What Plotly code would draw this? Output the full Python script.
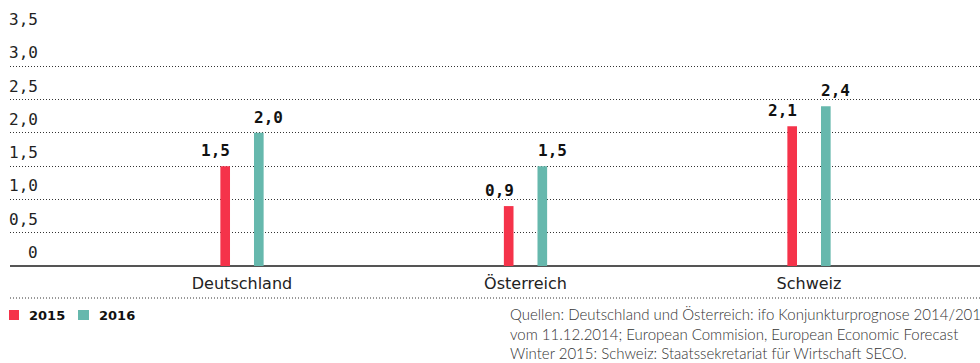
import plotly.graph_objects as go

# Wachstumsprognose BIP (in %), 2015 und 2016
laender = ["Deutschland", "Österreich", "Schweiz"]
werte_2015 = [1.5, 0.9, 2.1]
werte_2016 = [2.0, 1.5, 2.4]
jahre = ["2015", "2016"]
farben = ["#F5334A", "#66B8AD"]

y_ticks = [0, 0.5, 1.0, 1.5, 2.0, 2.5, 3.0, 3.5]
y_tick_text = ["0", "0,5", "1,0", "1,5", "2,0", "2,5", "3,0", "3,5"]

quelle = ("Quellen: Deutschland und Österreich: ifo Konjunkturprognose 2014/2015<br>"
          "vom 11.12.2014; European Commision, European Economic Forecast<br>"
          "Winter 2015: Schweiz: Staatssekretariat für Wirtschaft SECO.")

W, H = 980, 363
ML, MT, MB = 10, 33, 97
PW, PH = W - ML, H - MT - MB


def px_x(p):
    return (p - ML) / PW


def px_y(p):
    return (H - MB - p) / PH


def fmt(v):
    return f"{v:.1f}".replace(".", ",")


bar_w = 0.034
gap = 0.0423

fig = go.Figure()
for name, vals, col, off in [
    (jahre[0], werte_2015, farben[0], -gap - bar_w),
    (jahre[1], werte_2016, farben[1], gap),
]:
    fig.add_trace(go.Bar(
        x=laender, y=vals, name=name, marker=dict(color=col, line=dict(width=0)),
        width=bar_w, offset=off, showlegend=False, hoverinfo="skip",
    ))

annotations = []
# value labels above the bars
for land, v in zip(laender, werte_2015):
    annotations.append(dict(x=land, y=v, xref="x", yref="y", text=f"<b>{fmt(v)}</b>",
                            showarrow=False, xanchor="right", yanchor="bottom",
                            xshift=-10, yshift=4,
                            font=dict(family="DejaVu Sans Mono", size=16, color="#111")))
for land, v in zip(laender, werte_2016):
    annotations.append(dict(x=land, y=v, xref="x", yref="y", text=f"<b>{fmt(v)}</b>",
                            showarrow=False, xanchor="left", yanchor="bottom",
                            xshift=10, yshift=4,
                            font=dict(family="DejaVu Sans Mono", size=16, color="#111")))

# y tick labels sitting above their gridlines
for t, lab in zip(y_ticks, y_tick_text):
    annotations.append(dict(x=px_x(40), y=t, xref="paper", yref="y", text=lab,
                            showarrow=False, xanchor="right", yanchor="bottom", yshift=2,
                            font=dict(family="DejaVu Sans Mono", size=16, color="#222")))

# legend
shapes = []
leg_x = [(9, 19, 27), (78, 89, 97)]
for (x0, x1, tx), jahr, col in zip(leg_x, jahre, farben):
    shapes.append(dict(type="rect", xref="paper", yref="paper",
                       x0=px_x(x0), x1=px_x(x1), y0=px_y(320), y1=px_y(310),
                       fillcolor=col, line=dict(width=0)))
    annotations.append(dict(x=px_x(tx), y=px_y(315), xref="paper", yref="paper",
                            text=f"<b>{jahr}</b>", showarrow=False,
                            xanchor="left", yanchor="middle",
                            font=dict(family="DejaVu Sans", size=13, color="#111")))

# source note
annotations.append(dict(x=px_x(508), y=px_y(303), xref="paper", yref="paper",
                        text=quelle, showarrow=False, align="left",
                        xanchor="left", yanchor="top",
                        font=dict(family="Lato", size=15, color="#333", weight=300)))

# dotted separator below the category labels
shapes.append(dict(type="line", xref="paper", yref="paper", x0=0, x1=1,
                   y0=px_y(298), y1=px_y(298),
                   line=dict(color="#333", width=1, dash="1px,2px")))

fig.update_layout(
    width=W, height=H,
    margin=dict(l=ML, r=0, t=MT, b=MB),
    paper_bgcolor="white", plot_bgcolor="white",
    barmode="overlay",
    xaxis=dict(range=[(ML - 242) / 283.5, (W - 242) / 283.5],
               showgrid=False, showline=False, zeroline=False,
               ticks="", ticklabelstandoff=6,
               tickfont=dict(family="DejaVu Sans", size=16, color="#222"),
               fixedrange=True),
    yaxis=dict(range=[0, 3.5], tickvals=y_ticks, showticklabels=False,
               showgrid=True, gridcolor="#333", gridwidth=1, griddash="1px,2px",
               zeroline=True, zerolinecolor="#555", zerolinewidth=1.5,
               showline=False, fixedrange=True),
    annotations=annotations,
    shapes=shapes,
)

fig.write_html("out.html")
